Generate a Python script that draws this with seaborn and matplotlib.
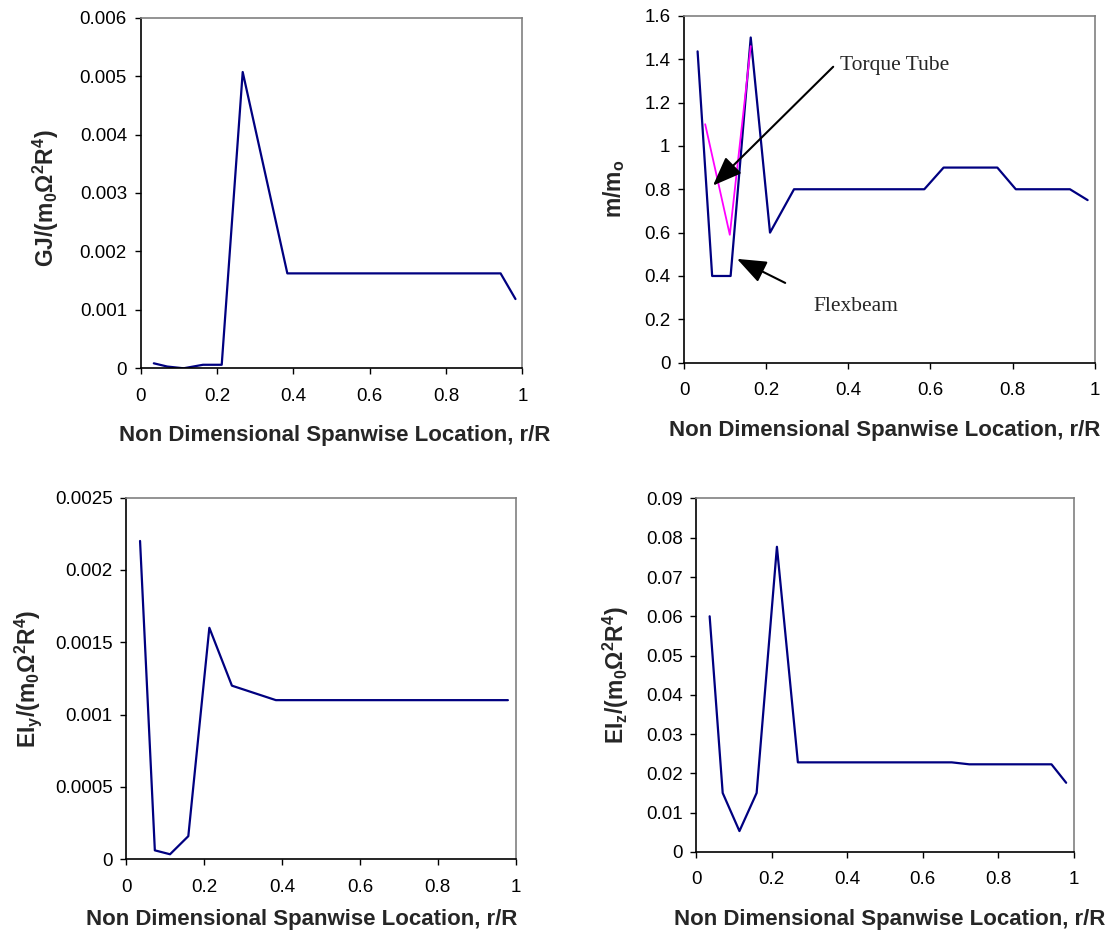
import matplotlib
matplotlib.use('Agg')
import matplotlib.pyplot as plt
import seaborn as sns

# spanwise stations and properties
gj_x = [0.034, 0.069, 0.112, 0.163, 0.212, 0.267, 0.384, 0.943, 0.982]
gj_y = [0.000085, 0.00003, 0.0, 0.00006, 0.00006, 0.00507, 0.001624, 0.001624, 0.001185]

mass_x = [0.0325, 0.068, 0.113, 0.162, 0.209, 0.2675, 0.585, 0.632, 0.763, 0.808, 0.940, 0.983]
mass_y = [1.436, 0.40, 0.40, 1.50, 0.60, 0.80, 0.80, 0.90, 0.90, 0.80, 0.80, 0.75]

tube_x = [0.051, 0.111, 0.162]
tube_y = [1.10, 0.59, 1.46]

eiy_x = [0.035, 0.073, 0.112, 0.159, 0.213, 0.271, 0.384, 0.980]
eiy_y = [0.0022, 0.000062, 0.000035, 0.00016, 0.0016, 0.0012, 0.0011, 0.0011]

eiz_x = [0.035, 0.0696, 0.114, 0.1596, 0.2134, 0.269, 0.677, 0.7236, 0.9416, 0.9805]
eiz_y = [0.060, 0.015, 0.0053, 0.015, 0.0777, 0.0228, 0.0228, 0.0223, 0.0223, 0.0176]

xlabel = 'Non Dimensional Spanwise Location, r/R'

sns.set_style('white')
plt.rcParams['font.family'] = ['Liberation Sans', 'DejaVu Sans']
plt.rcParams['mathtext.fontset'] = 'custom'
plt.rcParams['mathtext.rm'] = 'Liberation Sans'
plt.rcParams['mathtext.bf'] = 'Liberation Sans:bold'
plt.rcParams['mathtext.it'] = 'Liberation Sans:italic'

fig = plt.figure(figsize=(11.09, 9.3), dpi=100)

# panel placement (figure fractions)
ax1 = fig.add_axes([0.127, 0.604, 0.344, 0.377])
ax2 = fig.add_axes([0.617, 0.610, 0.370, 0.373])
ax3 = fig.add_axes([0.114, 0.076, 0.351, 0.389])
ax4 = fig.add_axes([0.628, 0.084, 0.340, 0.380])

navy = '#000080'
serif = 'Liberation Serif'


def style(ax, ymax, ystep, ylabel, fmt, xlab_pos, ylab_pos):
    ax.set_xlim(0, 1)
    ax.set_ylim(0, ymax)
    ax.set_xticks([0, 0.2, 0.4, 0.6, 0.8, 1])
    ax.set_xticklabels(['0', '0.2', '0.4', '0.6', '0.8', '1'])
    n = int(round(ymax / ystep))
    ticks = [i * ystep for i in range(n + 1)]
    ax.set_yticks(ticks)
    ax.set_yticklabels([fmt(t) for t in ticks])
    ax.tick_params(axis='both', labelsize=13.5, direction='out', length=4,
                   width=1, colors='black', left=True, bottom=True)
    ax.tick_params(axis='x', pad=10)
    ax.tick_params(axis='y', pad=6)
    for s in ['left', 'bottom']:
        ax.spines[s].set_color('black')
        ax.spines[s].set_linewidth(1.2)
    for s in ['top', 'right']:
        ax.spines[s].set_color('#808080')
        ax.spines[s].set_linewidth(1.2)
    ax.set_xlabel(xlabel, fontsize=16, fontweight='bold')
    ax.set_ylabel(ylabel, fontsize=16.5)
    ax.xaxis.set_label_coords(*xlab_pos)
    ax.yaxis.set_label_coords(*ylab_pos)
    ax.grid(False)


def g(v):
    return ('%.4f' % v).rstrip('0').rstrip('.') if v != 0 else '0'


def g1(v):
    return ('%.1f' % v).rstrip('0').rstrip('.') if v != 0 else '0'


def g2(v):
    return ('%.2f' % v) if v != 0 else '0'


sns.lineplot(x=gj_x, y=gj_y, ax=ax1, color=navy, lw=1.6, estimator=None, sort=False)
style(ax1, 0.006, 0.001, r'$\mathbf{GJ/(m_0\Omega^2R^4)}$', g,
      (0.509, -0.162), (-0.21, 0.486))

sns.lineplot(x=mass_x, y=mass_y, ax=ax2, color=navy, lw=1.6, estimator=None, sort=False)
sns.lineplot(x=tube_x, y=tube_y, ax=ax2, color='#FF00FF', lw=1.3, estimator=None, sort=False)
style(ax2, 1.6, 0.2, r'$\mathbf{m/m_o}$', g1,
      (0.489, -0.166), (-0.139, 0.5))

arrow = dict(arrowstyle='-|>,head_width=0.35,head_length=0.9', color='black',
             lw=1.5, mutation_scale=20, shrinkA=0, shrinkB=0)
ax2.annotate('', xy=(0.070, 0.817), xytext=(0.363, 1.365), arrowprops=arrow)
ax2.text(0.379, 1.369, 'Torque Tube', fontsize=15.5, family=serif, va='center', ha='left')
ax2.annotate('', xy=(0.1285, 0.479), xytext=(0.246, 0.368), arrowprops=arrow)
ax2.text(0.315, 0.259, 'Flexbeam', fontsize=15.5, family=serif, va='center', ha='left')

sns.lineplot(x=eiy_x, y=eiy_y, ax=ax3, color=navy, lw=1.6, estimator=None, sort=False)
style(ax3, 0.0025, 0.0005, r'$\mathbf{EI_y/(m_0\Omega^2R^4)}$', g,
      (0.449, -0.137), (-0.212, 0.5))

sns.lineplot(x=eiz_x, y=eiz_y, ax=ax4, color=navy, lw=1.6, estimator=None, sort=False)
style(ax4, 0.09, 0.01, r'$\mathbf{EI_z/(m_0\Omega^2R^4)}$', g2,
      (0.512, -0.161), (-0.173, 0.5))

fig.savefig('out.png', dpi=100)
